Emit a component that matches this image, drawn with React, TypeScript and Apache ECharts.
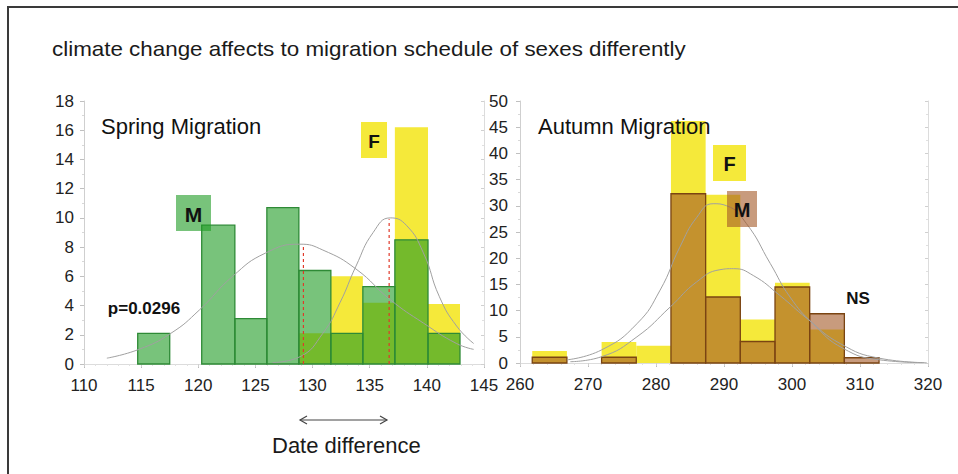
import React, { useEffect, useRef } from "react";
import * as echarts from "echarts";

// ---- data ----
const springEdges = [114.7, 117.5, 120.3, 123.2, 126.0, 128.8, 131.6, 134.4, 137.2, 140.1, 142.9];
const springMale = [2.1, 0, 9.5, 3.1, 10.7, 6.4, 2.1, 5.3, 8.5, 2.1];
const springFemale = [0, 0, 0, 0, 0, 2.1, 6.0, 4.2, 16.2, 4.1];

const autumnEdges = [261.8, 266.9, 272.0, 277.1, 282.2, 287.3, 292.4, 297.5, 302.6, 307.7, 312.8];
const autumnMale = [1.1, 0, 1.1, 0, 32.3, 12.6, 4.1, 14.5, 9.4, 1.0];
const autumnFemale = [2.3, 0, 4.0, 3.3, 46.2, 32.1, 8.3, 15.3, 6.4, 0];

const springMaleCurve = [
  [112, 0.4], [114.8, 1.0], [117.6, 2.1], [120.1, 3.7], [123.0, 6.0], [125.9, 7.6],
  [128.9, 8.2], [130.9, 7.8], [133.8, 6.5], [136.8, 4.4], [139.7, 2.8], [142.6, 1.4], [144.1, 1.0],
];
const springFemaleCurve = [
  [126.5, 0.1], [128.9, 0.5], [130.9, 2.1], [132.4, 4.2], [133.8, 6.7], [135.3, 9.0],
  [136.8, 10.0], [138.2, 9.5], [139.7, 7.6], [141.1, 4.6], [142.6, 2.6], [144.1, 1.4],
];
const springMeanMale = [[129.2, 0], [129.2, 8.1]];
const springMeanFemale = [[136.7, 0], [136.7, 9.9]];

const autumnCurveA = [
  [266.9, 0.6], [272.0, 2.5], [277.2, 7.5], [280.6, 13.9], [283.5, 22.1], [286.0, 27.8],
  [288.4, 30.4], [290.4, 30.0], [293.3, 26.6], [296.8, 19.0], [299.7, 12.6], [303.1, 7.5],
  [307.5, 2.8], [312.9, 0.6], [319.3, 0.06],
];
const autumnCurveB = [
  [267.4, 0.25], [272.0, 1.2], [277.2, 5.0], [282.1, 10.7], [286.0, 15.5], [289.4, 17.8],
  [291.4, 18.0], [294.3, 16.7], [298.2, 12.9], [302.2, 8.5], [307.1, 3.7], [312.9, 0.9], [319.8, 0.06],
];

const springXTicks = { min: 110, max: 145, interval: 5 };
const springYTicks = { min: 0, max: 18, interval: 2 };
const autumnXTicks = { min: 260, max: 320, interval: 10 };
const autumnYTicks = { min: 0, max: 50, interval: 5 };

const FONT = "Liberation Sans, Arial, sans-serif";
const YELLOW = "#f5e93a";
const GREEN = "rgba(30,155,35,0.6)";
const BROWN = "rgba(163,88,38,0.6)";

function bins(edges: number[], values: number[]) {
  return values
    .map((v, i) => [edges[i], edges[i + 1], v])
    .filter((d) => d[2] > 0);
}

function barSeries(data: number[][], idx: number, fill: string, stroke: string | null) {
  return {
    type: "custom",
    xAxisIndex: idx,
    yAxisIndex: idx,
    encode: { x: [0, 1], y: 2 },
    data,
    renderItem: (params: any, api: any) => {
      const p0 = api.coord([api.value(0), 0]);
      const p1 = api.coord([api.value(1), api.value(2)]);
      return {
        type: "rect",
        shape: { x: p0[0], y: p1[1], width: p1[0] - p0[0], height: p0[1] - p1[1] },
        style: stroke ? { fill, stroke, lineWidth: 1.3 } : { fill },
      };
    },
  };
}

function curve(data: number[][], idx: number) {
  return {
    type: "line",
    xAxisIndex: idx,
    yAxisIndex: idx,
    data,
    smooth: true,
    symbol: "none",
    lineStyle: { color: "#a0a0a0", width: 1 },
    z: 5,
  };
}

function meanLine(data: number[][]) {
  return {
    type: "line",
    xAxisIndex: 0,
    yAxisIndex: 0,
    data,
    symbol: "none",
    lineStyle: { color: "#e0392a", width: 1.2, type: [3, 3] },
    z: 6,
  };
}

function bottomX(grid: number, t: any) {
  return {
    gridIndex: grid,
    type: "value",
    ...t,
    axisLine: { show: true, lineStyle: { color: "#999", type: [3, 2] } },
    axisTick: { show: true, length: 4, lineStyle: { color: "#bbb" } },
    axisLabel: { fontSize: 17, color: "#222", margin: 13, fontFamily: FONT, showMinLabel: true, showMaxLabel: true },
    splitLine: { show: false },
  };
}
function topX(grid: number, t: any) {
  return {
    gridIndex: grid,
    type: "value",
    position: "top",
    ...t,
    axisLine: { show: true, lineStyle: { color: "#dcdcdc" } },
    axisTick: { show: true, inside: true, length: 3, lineStyle: { color: "#d0d0d0" } },
    minorTick: { show: true, splitNumber: 5, length: 2, lineStyle: { color: "#e0e0e0" } },
    axisLabel: { show: false },
    splitLine: { show: false },
  };
}
function leftY(grid: number, t: any, margin: number) {
  return {
    gridIndex: grid,
    type: "value",
    position: "left",
    ...t,
    axisLine: { show: true, lineStyle: { color: "#cfcfcf" } },
    axisTick: { show: true, length: 4, lineStyle: { color: "#c0c0c0" } },
    minorTick: { show: true, splitNumber: 2, length: 2, lineStyle: { color: "#d8d8d8" } },
    axisLabel: { fontSize: 17, color: "#222", margin, fontFamily: FONT, showMinLabel: true, showMaxLabel: true },
    splitLine: { show: false },
  };
}
function rightY(grid: number, t: any) {
  return {
    gridIndex: grid,
    type: "value",
    position: "right",
    ...t,
    axisLine: { show: true, lineStyle: { color: "#dcdcdc" } },
    axisTick: { show: true, inside: true, length: 3, lineStyle: { color: "#d0d0d0" } },
    minorTick: { show: true, splitNumber: 2, length: 2, lineStyle: { color: "#e0e0e0" } },
    axisLabel: { show: false },
    splitLine: { show: false },
  };
}

function labelBox(x: number, y: number, w: number, h: number, fill: string, txt: string, size: number) {
  return [
    { type: "rect", z: 100, shape: { x, y, width: w, height: h }, style: { fill } },
    {
      type: "text",
      z: 101,
      x: x + w / 2,
      y: y + h / 2 + 1,
      style: {
        text: txt,
        fontSize: size,
        fontWeight: "bold",
        fontFamily: FONT,
        fill: "#111",
        align: "center",
        verticalAlign: "middle",
      },
    },
  ];
}

export default function App() {
  const ref = useRef<HTMLDivElement>(null);
  useEffect(() => {
    if (!ref.current) return;
    const chart = echarts.init(ref.current, undefined, { renderer: "svg" });
    const option: any = {
      animation: false,
      backgroundColor: "#fff",
      grid: [
        { left: 84, top: 101, width: 400, height: 263 },
        { left: 520, top: 101, width: 408, height: 262 },
      ],
      xAxis: [bottomX(0, springXTicks), bottomX(1, autumnXTicks), topX(0, springXTicks), topX(1, autumnXTicks)],
      yAxis: [leftY(0, springYTicks, 10), leftY(1, autumnYTicks, 12), rightY(0, springYTicks), rightY(1, autumnYTicks)],
      series: [
        barSeries(bins(springEdges, springFemale), 0, YELLOW, null),
        barSeries(bins(springEdges, springMale), 0, GREEN, "#2e8a36"),
        curve(springMaleCurve, 0),
        curve(springFemaleCurve, 0),
        meanLine(springMeanMale),
        meanLine(springMeanFemale),
        barSeries(bins(autumnEdges, autumnFemale), 1, YELLOW, null),
        barSeries(bins(autumnEdges, autumnMale), 1, BROWN, "#7a4412"),
        curve(autumnCurveA, 1),
        curve(autumnCurveB, 1),
      ],
      graphic: [
        {
          type: "rect",
          z: 100,
          shape: { x: 8, y: 7, width: 980, height: 500 },
          style: { fill: "none", stroke: "#3a3a3a", lineWidth: 2 },
          silent: true,
        },
        {
          type: "text",
          z: 100,
          x: 52,
          y: 49,
          scaleX: 1.12,
          style: {
            text: "climate change affects to migration schedule of sexes differently",
            fontSize: 20,
            fontFamily: FONT,
            fill: "#1a1a1a",
            verticalAlign: "middle",
          },
        },
        {
          type: "text",
          x: 101,
          y: 126,
          z: 100,
          style: { text: "Spring Migration", fontSize: 22, fontFamily: FONT, fill: "#111", verticalAlign: "middle" },
        },
        {
          type: "text",
          x: 538,
          y: 126,
          z: 100,
          style: { text: "Autumn Migration", fontSize: 22, fontFamily: FONT, fill: "#111", verticalAlign: "middle" },
        },
        ...labelBox(176, 195, 35, 36, GREEN, "M", 21),
        ...labelBox(361, 122, 26, 36, YELLOW, "F", 19),
        ...labelBox(713, 145, 33, 36, YELLOW, "F", 20),
        ...labelBox(727, 191, 30, 36, BROWN, "M", 20),
        {
          type: "text",
          x: 144,
          y: 308,
          z: 100,
          style: { text: "p=0.0296", fontSize: 17, fontWeight: "bold", fontFamily: FONT, fill: "#111", align: "center", verticalAlign: "middle" },
        },
        {
          type: "text",
          x: 858,
          y: 298,
          z: 100,
          style: { text: "NS", fontSize: 17, fontWeight: "bold", fontFamily: FONT, fill: "#111", align: "center", verticalAlign: "middle" },
        },
        {
          type: "line",
          z: 100,
          shape: { x1: 300, y1: 420, x2: 387, y2: 420 },
          style: { stroke: "#444", lineWidth: 1.2 },
        },
        {
          type: "polyline",
          z: 100,
          shape: { points: [[307, 416], [300, 420], [307, 424]] },
          style: { stroke: "#444", lineWidth: 1.2, fill: "none" },
        },
        {
          type: "polyline",
          z: 100,
          shape: { points: [[380, 416], [387, 420], [380, 424]] },
          style: { stroke: "#444", lineWidth: 1.2, fill: "none" },
        },
        {
          type: "text",
          x: 272,
          y: 445,
          z: 100,
          style: { text: "Date difference", fontSize: 22, fontFamily: FONT, fill: "#1a1a1a", verticalAlign: "middle" },
        },
      ],
    };
    chart.setOption(option);
    return () => chart.dispose();
  }, []);
  return <div ref={ref} style={{ position: "fixed", left: 0, top: 0, width: 958, height: 474, background: "#fff" }} />;
}
